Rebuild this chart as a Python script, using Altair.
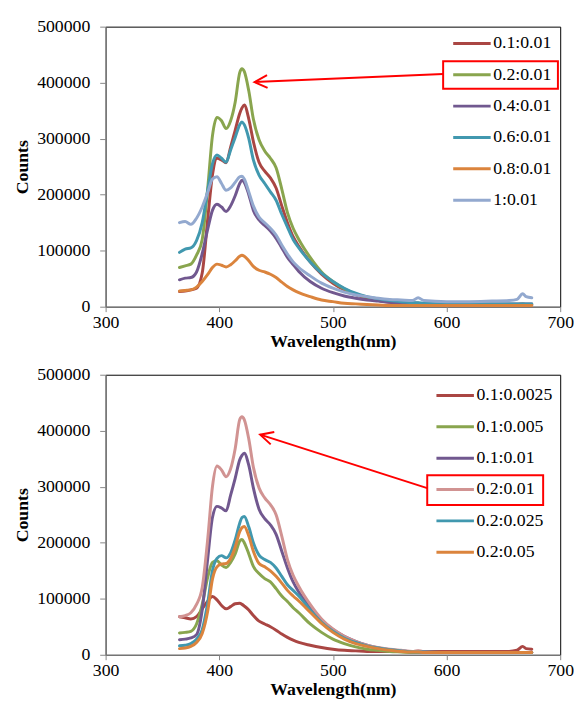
import altair as alt
import pandas as pd

# ---------------- data (counts in thousands) ----------------
wavelength = [365, 370, 375, 380, 385, 390, 394, 398, 402, 406, 410, 414, 418, 420, 422,
              426, 430, 435, 440, 445, 450, 455, 460, 465, 470, 480, 490, 500, 510, 520,
              530, 540, 550, 560, 570, 575, 580, 600, 620, 640, 655, 662, 667, 670, 675]

x_ticks = [300, 400, 500, 600, 700]
y_ticks = [0, 100000, 200000, 300000, 400000, 500000]

top_names = ["0.1:0.01", "0.2:0.01", "0.4:0.01", "0.6:0.01", "0.8:0.01", "1:0.01"]
top_colors = ["#AA4643", "#89A54E", "#71588F", "#4198AF", "#DB843D", "#93A9CF"]
top_01 = [27, 28, 30, 33, 60, 160, 235, 265, 262, 257, 285, 315, 345, 355, 360, 335, 295, 258, 242, 230,
          212, 180, 150, 125, 108, 80, 58, 42, 30, 21, 15, 11, 8, 6, 5, 5, 4, 3, 3, 3, 3, 3, 3, 3, 3]
top_02 = [70, 73, 76, 92, 120, 215, 305, 338, 332, 318, 332, 365, 418, 425, 420, 385, 335, 298, 278, 265,
          248, 210, 168, 140, 120, 88, 62, 45, 32, 23, 17, 13, 10, 8, 6, 6, 5, 4, 4, 4, 4, 4, 5, 4, 4]
top_04 = [48, 51, 52, 62, 95, 140, 172, 183, 178, 170, 180, 198, 220, 226, 222, 200, 172, 155, 145, 135,
          122, 105, 88, 75, 63, 45, 33, 25, 19, 15, 12, 10, 8, 7, 6, 6, 5, 5, 5, 5, 5, 5, 5, 5, 5]
top_06 = [97, 103, 105, 118, 150, 210, 255, 271, 265, 258, 280, 302, 325, 330, 325, 300, 262, 235, 220, 205,
          190, 165, 142, 120, 105, 80, 60, 45, 33, 24, 18, 14, 11, 9, 7, 7, 6, 5, 5, 5, 5, 5, 5, 5, 5]
top_08 = [28, 29, 30, 35, 45, 58, 70, 76, 74, 71, 75, 82, 90, 92, 90, 82, 72, 65, 62, 58,
          52, 44, 36, 30, 25, 18, 12, 9, 6, 5, 4, 3, 2, 2, 2, 2, 2, 2, 2, 2, 2, 2, 2, 2, 2]
top_10 = [150, 152, 147, 158, 178, 205, 228, 232, 220, 208, 212, 222, 232, 233, 228, 205, 180, 160, 150, 140,
          128, 110, 94, 80, 70, 55, 42, 33, 26, 21, 18, 15, 13, 12, 11, 16, 11, 9, 9, 10, 11, 13, 23, 18, 16]

bot_names = ["0.1:0.0025", "0.1:0.005", "0.1:0.01", "0.2:0.01", "0.2:0.025", "0.2:0.05"]
bot_colors = ["#AA4643", "#89A54E", "#71588F", "#D19392", "#4198AF", "#DB843D"]
bot_1 = [68, 66, 64, 68, 82, 96, 104, 98, 88, 82, 86, 91, 92, 90, 87, 80, 70, 60, 55, 50,
         44, 37, 31, 26, 22, 17, 13, 10, 8, 7, 6, 6, 6, 6, 6, 7, 6, 6, 6, 6, 6, 8, 15, 11, 10]
bot_2 = [39, 40, 42, 55, 90, 140, 165, 168, 160, 156, 165, 180, 203, 206, 200, 180, 158, 145, 136, 130,
         118, 105, 95, 84, 75, 55, 40, 28, 20, 14, 10, 8, 6, 5, 4, 4, 4, 4, 4, 4, 4, 4, 4, 4, 4]
bot_3 = [27, 28, 30, 36, 80, 175, 245, 265, 262, 257, 285, 315, 348, 356, 360, 338, 298, 260, 243, 232,
         215, 185, 155, 130, 112, 85, 62, 45, 33, 24, 17, 12, 9, 7, 6, 6, 5, 4, 4, 4, 4, 4, 4, 4, 4]
bot_4 = [68, 70, 75, 90, 120, 210, 300, 337, 330, 318, 332, 368, 420, 425, 420, 385, 335, 298, 280, 268,
         250, 212, 170, 142, 122, 90, 64, 46, 33, 24, 17, 13, 10, 8, 6, 6, 5, 4, 4, 4, 4, 4, 4, 4, 4]
bot_5 = [16, 17, 20, 28, 45, 95, 150, 172, 177, 173, 182, 205, 235, 245, 247, 228, 200, 178, 170, 165,
         155, 140, 125, 115, 105, 80, 58, 42, 30, 22, 16, 12, 9, 7, 5, 5, 5, 4, 4, 4, 4, 4, 4, 4, 4]
bot_6 = [11, 12, 15, 22, 38, 80, 135, 157, 162, 163, 172, 192, 220, 227, 229, 212, 185, 163, 157, 150,
         140, 128, 115, 105, 96, 76, 56, 40, 28, 20, 15, 11, 8, 6, 5, 5, 4, 4, 4, 4, 4, 4, 4, 4, 4]

# annotation (data coordinates): box [x1, x2, y1, y2], arrow [x_from, y_from, x_tip, y_tip]
top_box = [597, 698, 438400, 389100]
top_arrow = [597, 415500, 431, 401000]
bot_box = [583, 685, 320400, 267600]
bot_arrow = [583, 297500, 436, 393000]


def make_df(names, series):
    rows = []
    for name, vals in zip(names, series):
        for w, v in zip(wavelength, vals):
            rows.append({"series": name, "wl": w, "k": v})
    return pd.DataFrame(rows)


def xenc(field="wl"):
    return alt.X(f"{field}:Q", scale=alt.Scale(domain=[300, 700], nice=False),
                 axis=alt.Axis(values=x_ticks, title="Wavelength(nm)", labelFlush=False,
                               labelOverlap=False))


def yenc(field="counts"):
    return alt.Y(f"{field}:Q", scale=alt.Scale(domain=[0, 500000], nice=False),
                 axis=alt.Axis(values=y_ticks, format="d", title="Counts", labelOverlap=False))


def panel(names, colors, series, lx, ly, box, arrow, head_angle):
    df = make_df(names, series)
    lines = alt.Chart(df).transform_calculate(counts="datum.k * 1000").mark_line(
        strokeWidth=3, strokeJoin="round", strokeCap="round", interpolate="monotone"
    ).encode(
        x=xenc(), y=yenc(),
        color=alt.Color("series:N", sort=names,
                        scale=alt.Scale(domain=names, range=colors),
                        legend=alt.Legend(orient="none", legendX=lx, legendY=ly, title=None,
                                          symbolType="stroke", symbolSize=1444,
                                          symbolStrokeWidth=3, labelFont="Liberation Serif",
                                          labelFontSize=18, labelColor="black",
                                          clipHeight=24, rowPadding=7.8, labelOffset=1,
                                          padding=0, labelLimit=300)),
    )
    box_df = pd.DataFrame({"wl": [box[0]], "wl2": [box[1]], "counts": [box[2]], "counts2": [box[3]]})
    rect = alt.Chart(box_df).mark_rect(fill="transparent", stroke="#FF0000", strokeWidth=2).encode(
        x=xenc(), x2="wl2:Q", y=yenc(), y2="counts2:Q")
    arr_df = pd.DataFrame({"wl": [arrow[0]], "counts": [arrow[1]], "wl2": [arrow[2]], "counts2": [arrow[3]]})
    rule = alt.Chart(arr_df).mark_rule(color="#FF0000", strokeWidth=2).encode(
        x=xenc(), y=yenc(), x2="wl2:Q", y2="counts2:Q")
    tip_df = pd.DataFrame({"wl": [arrow[2]], "counts": [arrow[3]]})
    head = alt.Chart(tip_df).mark_point(
        shape="M 1 -0.5 L 0 0 L 1 0.5", filled=False, stroke="#FF0000", strokeWidth=2,
        size=676, angle=head_angle, opacity=1
    ).encode(x=xenc(), y=yenc())
    return alt.layer(lines, rect, rule, head).properties(width=461, height=284)


top = panel(top_names, top_colors, [top_01, top_02, top_04, top_06, top_08, top_10],
            351, 5, top_box, top_arrow, 357.6)
bottom = panel(bot_names, bot_colors, [bot_1, bot_2, bot_3, bot_4, bot_5, bot_6],
               334, 9, bot_box, bot_arrow, 16.2)

chart = alt.vconcat(top, bottom, spacing=69, bounds="flush").resolve_scale(
    color="independent"
).properties(
    padding={"left": 5, "top": 4, "right": 0, "bottom": 0}
).configure_view(
    stroke="black", strokeWidth=1
).configure_axis(
    domainColor="#868686", tickColor="#868686", domainWidth=1, tickWidth=1,
    labelFont="Liberation Serif", labelFontSize=18, labelColor="black",
    titleFont="Liberation Serif", titleFontSize=18, titleFontWeight="bold", titleColor="black",
    grid=False
).configure_axisX(
    tickSize=5, labelPadding=2, titlePadding=1
).configure_axisY(
    tickSize=6, labelPadding=10, titlePadding=5
).configure_legend(
    labelFont="Liberation Serif", labelFontSize=18, labelColor="black"
)

chart.save("out.html", embed_options={"renderer": "svg", "actions": False})
